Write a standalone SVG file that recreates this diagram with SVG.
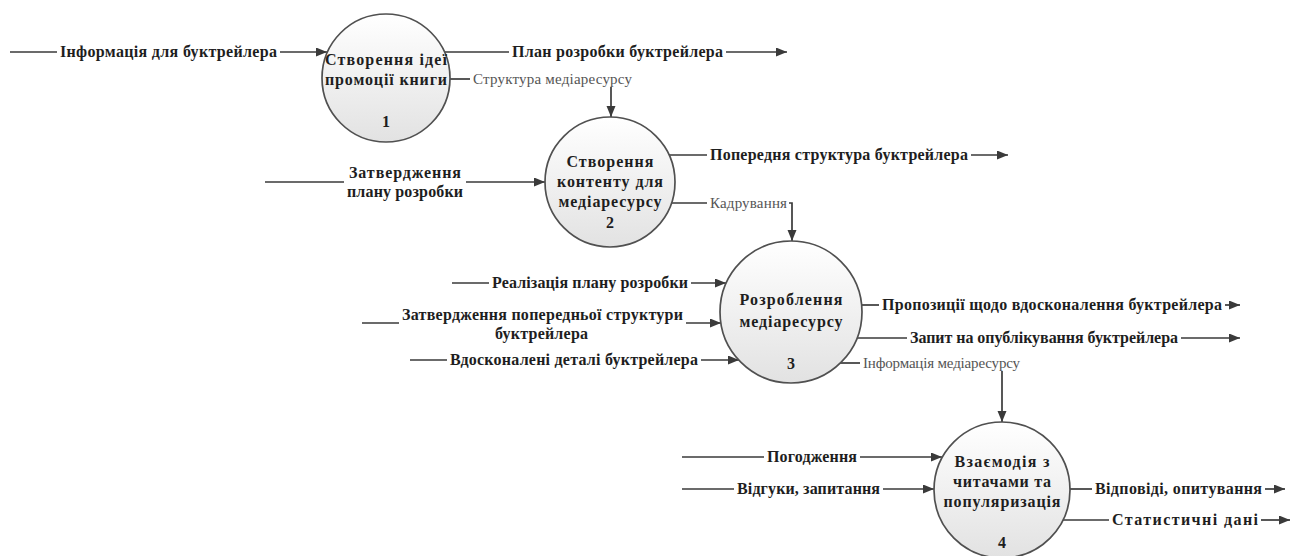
<svg xmlns="http://www.w3.org/2000/svg" width="1298" height="556" viewBox="0 0 1298 556">
<defs>
<linearGradient id="g" x1="0" y1="0" x2="0" y2="1">
<stop offset="0" stop-color="#ffffff"/>
<stop offset="1" stop-color="#e2e2e2"/>
</linearGradient>
<marker id="arr" markerUnits="userSpaceOnUse" markerWidth="12" markerHeight="10" refX="11" refY="4.5" orient="auto">
<path d="M0,0 L11,4.5 L0,9 z" fill="#3a3a3a"/>
</marker>
</defs>
<style>
.n{fill:url(#g);stroke:#505050;stroke-width:1.7}
.c{stroke:#3a3a3a;stroke-width:1.7;fill:none}
.a{marker-end:url(#arr)}
text{font-family:'Liberation Serif','Times New Roman',serif}
.t{font-size:16px;font-weight:bold;fill:#1e1e1e;text-anchor:middle}
.s{font-size:15px;fill:#555;text-anchor:middle}
</style>
<rect width="1298" height="556" fill="#fff"/>
<g id="connectors">
<path class="c" d="M10 52H57"/><path class="c a" d="M280 52H327"/>
<text class="t" x="168.5" y="57" textLength="217">Інформація для буктрейлера</text>
<path class="c" d="M445 52H509"/><path class="c a" d="M726 52H787"/>
<text class="t" x="617.5" y="57" textLength="211">План розробки буктрейлера</text>
<path class="c" d="M450 79H470"/><path class="c a" d="M611 87V117"/>
<text class="s" x="552.5" y="84" textLength="159">Структура медіаресурсу</text>
<path class="c" d="M265 182H344"/><path class="c a" d="M466 182H545"/>
<text class="t" x="405" y="178" textLength="112">Затвердження</text>
<text class="t" x="405" y="197" textLength="116">плану розробки</text>
<path class="c" d="M669 155H707"/><path class="c a" d="M971 155H1008"/>
<text class="t" x="839" y="160" textLength="258">Попередня структура буктрейлера</text>
<path class="c" d="M672 203H707"/><path class="c a" d="M789 203H792V241"/>
<text class="s" x="748.5" y="208" textLength="77">Кадрування</text>
<path class="c" d="M452 283H489"/><path class="c a" d="M691 283H726"/>
<text class="t" x="590" y="288" textLength="196">Реалізація плану розробки</text>
<path class="c" d="M362 323H399"/><path class="c a" d="M686 323H721"/>
<text class="t" x="542.5" y="320" textLength="281">Затвердження попередньої структури</text>
<text class="t" x="541.5" y="339" textLength="93">буктрейлера</text>
<path class="c" d="M410 360H447"/><path class="c a" d="M701 360H739"/>
<text class="t" x="574" y="365" textLength="248">Вдосконалені деталі буктрейлера</text>
<path class="c" d="M862 305H879"/><path class="c a" d="M1225 305H1240"/>
<text class="t" x="1052" y="310" textLength="340">Пропозиції щодо вдосконалення буктрейлера</text>
<path class="c" d="M857 338H907"/><path class="c a" d="M1181 338H1240"/>
<text class="t" x="1044" y="343" textLength="268">Запит на опублікування буктрейлера</text>
<path class="c" d="M840 363H860"/><path class="c a" d="M1002 371V422"/>
<text class="s" x="941.5" y="368" textLength="157">Інформація медіаресурсу</text>
<path class="c" d="M682 457H764"/><path class="c a" d="M860 457H942"/>
<text class="t" x="812" y="462" textLength="90">Погодження</text>
<path class="c" d="M682 489H734"/><path class="c a" d="M883 489H934"/>
<text class="t" x="808.5" y="494" textLength="143">Відгуки, запитання</text>
<path class="c" d="M1070 489H1092"/><path class="c a" d="M1265 489H1285"/>
<text class="t" x="1178.5" y="494" textLength="167">Відповіді, опитування</text>
<path class="c" d="M1063 520H1109"/><path class="c a" d="M1261 520H1290"/>
<text class="t" x="1185" y="525" textLength="146">Статистичні дані</text>
</g>
<g id="node1">
<circle class="n" cx="386" cy="78" r="64"/>
<text class="t" x="386" y="65" textLength="122">Створення ідеї</text>
<text class="t" x="386" y="85" textLength="122">промоції книги</text>
<text class="t" x="386" y="127">1</text>
</g>
<g id="node2">
<circle class="n" cx="610" cy="182" r="65"/>
<text class="t" x="610" y="167" textLength="87">Створення</text>
<text class="t" x="610" y="187" textLength="106">контенту для</text>
<text class="t" x="610" y="207" textLength="103">медіаресурсу</text>
<text class="t" x="610" y="228">2</text>
</g>
<g id="node3">
<circle class="n" cx="791" cy="312" r="71"/>
<text class="t" x="791" y="305" textLength="103">Розроблення</text>
<text class="t" x="791" y="327" textLength="103">медіаресурсу</text>
<text class="t" x="791" y="369">3</text>
</g>
<g id="node4">
<circle class="n" cx="1002" cy="490" r="68"/>
<text class="t" x="1002" y="467" textLength="95">Взаємодія з</text>
<text class="t" x="1002" y="487" textLength="98">читачами та</text>
<text class="t" x="1002" y="507" textLength="117">популяризація</text>
<text class="t" x="1002" y="548">4</text>
</g>
</svg>
